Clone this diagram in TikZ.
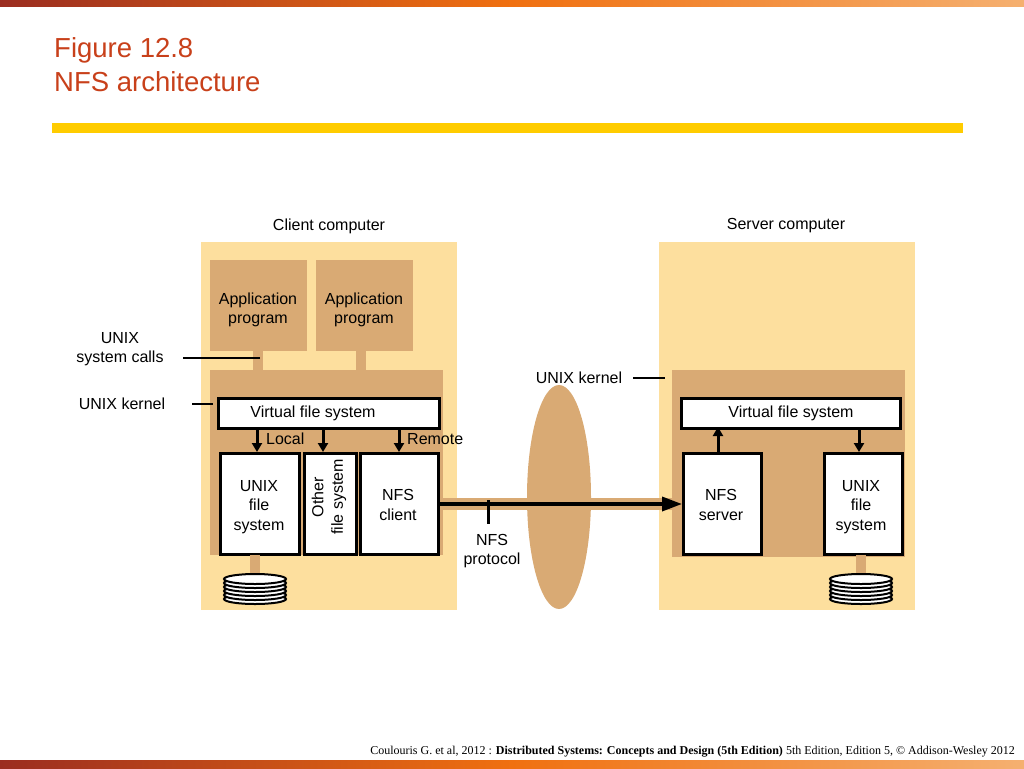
\documentclass[tikz,border=0pt]{standalone}
\usepackage{fontspec}
\setmainfont{Liberation Sans}
\newfontfamily\footfont{Liberation Serif}
\usetikzlibrary{arrows.meta}
\definecolor{light}{HTML}{FDDF9E}
\definecolor{tan}{HTML}{D9AA74}
\definecolor{titlered}{HTML}{C8401A}
\definecolor{barred}{HTML}{9B2D20}
\definecolor{barorange}{HTML}{F07010}
\definecolor{barlight}{HTML}{F5B070}
\definecolor{rule}{HTML}{FFCC00}
\tikzset{
  lbl/.style={font=\fontsize{16}{19.5}\selectfont, inner sep=0pt},
  comp/.style={draw=black, line width=3pt, fill=white, align=center, lbl},
  app/.style={fill=tan, align=center, lbl},
  dn/.style={line width=3pt, -{Triangle[length=9pt,width=10pt]}},
}
\begin{document}
\begin{tikzpicture}[x=1pt,y=-1pt]
\useasboundingbox (0,0) rectangle (1024,768);
% frame bars
\shade[left color=barred, right color=barlight, middle color=barorange] (0,0) rectangle (1024,7);
\shade[left color=barred, right color=barlight, middle color=barorange] (0,760) rectangle (1024,768);
\fill[rule] (52,123) rectangle (963,133);
\node[anchor=west, text=titlered, font=\fontsize{27.5}{34}\selectfont, align=left, inner sep=0pt] (title) at (54,65) {Figure 12.8\\NFS architecture};

% computers
\fill[light] (201,242) rectangle (457,610);
\fill[light] (659,242) rectangle (915,610);
\node[lbl] (cc) at (329,226) {Client computer};
\node[lbl] (sc) at (786,226) {Server computer};

% application programs
\node[app, minimum width=97pt, minimum height=91pt, anchor=north west] (app1) at (210,260) {};
\node[app, minimum width=97pt, minimum height=91pt, anchor=north west] (app2) at (316,260) {};
\node[lbl, align=center] (app1t) at (258,310) {Application\\program};
\node[lbl, align=center] (app2t) at (364,310) {Application\\program};
\fill[tan] (253,351) rectangle (263,370);
\fill[tan] (356,351) rectangle (366,370);

% kernels
\fill[tan] (210,370) rectangle (443,555);
\fill[tan] (672,370) rectangle (905,557);

% VFS
\node[comp, minimum width=221pt, minimum height=30pt, anchor=north west] (vfs1) at (217,397) {Virtual file system\hspace*{32pt}};
\node[comp, minimum width=219pt, minimum height=30pt, anchor=north west] (vfs2) at (680,397) {Virtual file system};

% file systems
\node[comp, minimum width=79pt, minimum height=101pt, anchor=north west] (ufs1) at (219,452) {};
\node[comp, minimum width=52pt, minimum height=101pt, anchor=north west] (ofs) at (303,452) {};
\node[comp, minimum width=78pt, minimum height=101pt, anchor=north west] (nfsc) at (359,452) {};
\node[comp, minimum width=78pt, minimum height=101pt, anchor=north west] (nfss) at (682,452) {};
\node[comp, minimum width=78pt, minimum height=101pt, anchor=north west] (ufs2) at (823,452) {};
\node[lbl, align=center] (ufs1t) at (259,507) {UNIX\\file\\system};
\node[lbl, rotate=90, align=center] (ofst) at (329,497) {Other\\file system};
\node[lbl, align=center] (nfsct) at (398,505) {NFS\\client};
\node[lbl, align=center] (nfsst) at (721,505) {NFS\\server};
\node[lbl, align=center] (ufs2t) at (861,507) {UNIX\\file\\system};

% arrows
\draw[dn] (257,427) -- (257,452);
\draw[dn] (323,427) -- (323,452);
\draw[dn] (399,427) -- (399,452);
\draw[dn] (718,452) -- (718,427);
\draw[dn] (859,427) -- (859,452);
\node[lbl, anchor=west] (local) at (266,439) {Local};
\node[lbl, anchor=west] (remote) at (407,439) {Remote};

% disks
\foreach \cx/\n in {255/d1,861/d2}{
  \fill[tan] (\cx-5,555) rectangle (\cx+5,580);
  \foreach \yy in {599,595,591,587,583,579}{
    \draw[line width=2pt, fill=white] (\cx,\yy) ellipse (31pt and 5pt);
  }
}

% network
\fill[tan] (559,497) ellipse (32pt and 112pt);
\draw[tan, line width=12pt] (nfsc.east) -- (nfss.west);
\draw[line width=3.5pt, -{Triangle[length=20pt,width=14pt]}] (nfsc.east) -- (nfss.west);
\coordinate (pt) at (488,500);
\draw[line width=3pt] (pt) -- (488,524);
\node[lbl, align=center] (proto) at (492,551) {NFS\\protocol};

% side labels
\node[lbl, align=center] (sys) at (120,349) {UNIX\\system calls};
\coordinate (sysE) at (260,358);
\draw[line width=2.5pt] (183,358) -- (sysE);
\node[lbl] (uk1) at (122,404) {UNIX kernel};
\coordinate (uk1E) at (213,404);
\draw[line width=2.5pt] (192,404) -- (uk1E);
\node[lbl] (uk2) at (579,378) {UNIX kernel};
\coordinate (uk2E) at (665,378);
\draw[line width=2.5pt] (633,378) -- (uk2E);

% footer
\node[anchor=east, inner sep=0pt, font=\footfont\fontsize{12}{14}\selectfont] (foot) at (1015,752) {Coulouris G. et al, 2012 : \textbf{Distributed Systems: Concepts and Design (5th Edition)} 5th Edition, Edition 5, © Addison-Wesley 2012};
\end{tikzpicture}
\end{document}
